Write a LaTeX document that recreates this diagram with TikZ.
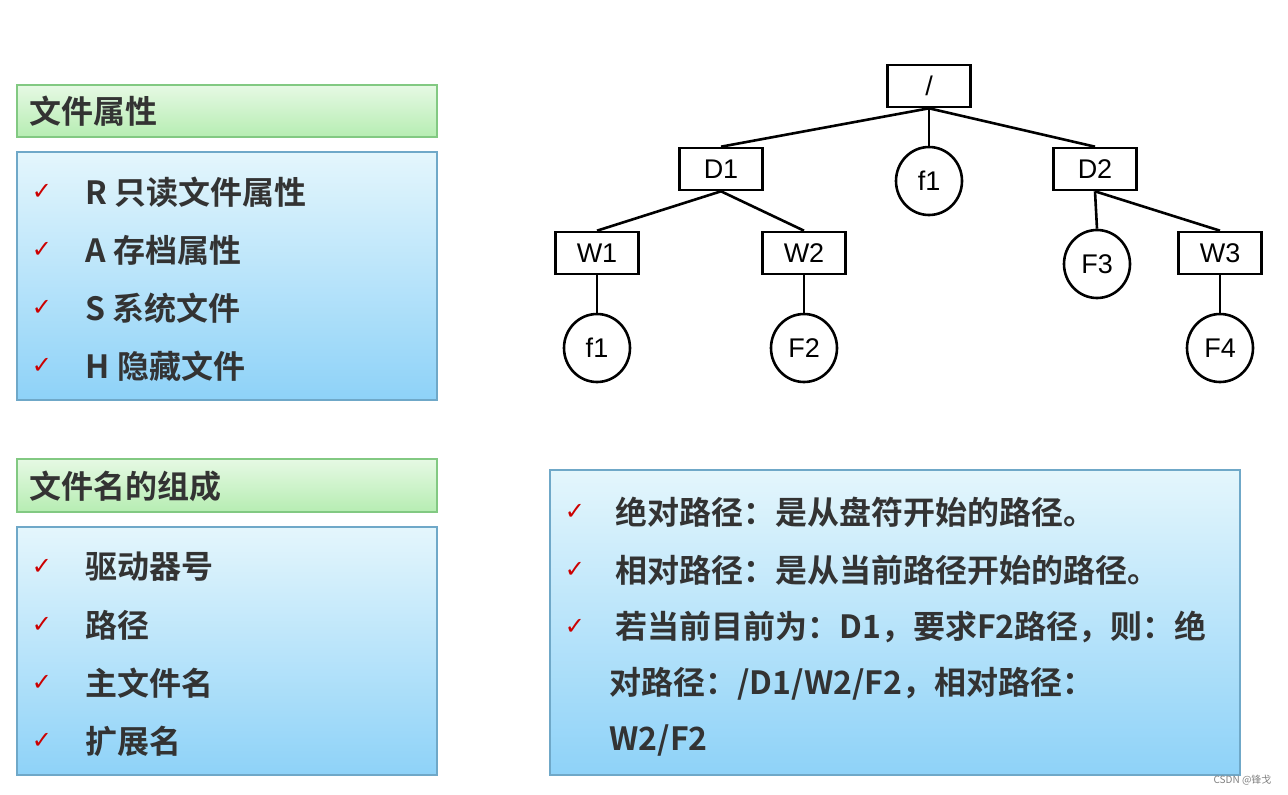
\documentclass[tikz,border=0pt]{standalone}
\usepackage{fontspec}
\setmainfont{Liberation Sans}
\newfontfamily\cjk{Noto Sans CJK SC}[BoldFont={* Bold}]
\newfontfamily\djvfont{DejaVu Sans}
\usetikzlibrary{shapes.geometric}
\definecolor{bluetop}{HTML}{E4F6FC}
\definecolor{bluebot}{HTML}{8ED2F8}
\definecolor{bluedraw}{HTML}{6FA8C8}
\definecolor{grtop}{HTML}{E6F9E4}
\definecolor{grbot}{HTML}{B6EDB2}
\begin{document}
\begin{tikzpicture}[x=1pt,y=-1pt,
  hdr/.style={draw=green!40!gray!70,top color=grtop,bottom color=grbot,line width=1.2pt},
  blu/.style={draw=bluedraw,line width=1.2pt,top color=bluetop,bottom color=bluebot},
  tx/.style={anchor=west,font=\cjk\bfseries\fontsize{32}{34}\selectfont,text=black!80},
  ck/.style={anchor=center,font=\djvfont\fontsize{24}{26}\selectfont,text=red!80!black},
  rb/.style={draw,line width=2.6pt,minimum width=83pt,minimum height=42pt,inner sep=0pt,font=\fontsize{27}{29}\selectfont},
  el/.style={draw,ellipse,line width=2.6pt,minimum width=66pt,minimum height=68pt,inner sep=0pt,font=\fontsize{27}{29}\selectfont},
  ed/.style={line width=2.6pt}]
\useasboundingbox (0,0) rectangle (1288,795);
% left boxes
\path[hdr] (17,85) rectangle (437,137);
\node[tx] (h1) at (26,111) {文件属性};
\path[blu] (17,152) rectangle (437,400);
\foreach \y/\t [count=\i] in {192/R 只读文件属性,250/A 存档属性,308/S 系统文件,366/H 隐藏文件}{
  \node[ck] (ca\i) at (42,\y) {✓};
  \node[tx] (ta\i) at (82,\y) {\t};}
\path[hdr] (17,459) rectangle (437,512);
\node[tx] (h2) at (26,486) {文件名的组成};
\path[blu] (17,527) rectangle (437,775);
\foreach \y/\t [count=\i] in {567/驱动器号,625/路径,683/主文件名,741/扩展名}{
  \node[ck] (cb\i) at (42,\y) {✓};
  \node[tx] (tb\i) at (82,\y) {\t};}
% right box
\path[blu] (550,470) rectangle (1240,775);
\node[ck] (c1) at (575,512) {✓};
\node[tx] (r1) at (612,512) {绝对路径：是从盘符开始的路径。};
\node[ck] (c2) at (575,570) {✓};
\node[tx] (r2) at (612,570) {相对路径：是从当前路径开始的路径。};
\node[ck] (c3) at (575,627) {✓};
\node[tx] (r3) at (612,627) {若当前目前为：D1，要求F2路径，则：绝};
\node[tx] (r4) at (606,684) {对路径：/D1/W2/F2，相对路径：};
\node[tx] (r5) at (606,740) {W2/F2};
% tree
\node[rb] (root) at (929,86) {/};
\node[rb] (d1) at (721,169) {D1};
\node[el] (f1a) at (929,181) {f1};
\node[rb] (d2) at (1095,169) {D2};
\node[rb] (w1) at (597,253) {W1};
\node[rb] (w2) at (804,253) {W2};
\node[el] (f3) at (1097,264) {F3};
\node[rb] (w3) at (1220,253) {W3};
\node[el] (f1b) at (597,348) {f1};
\node[el] (f2) at (804,348) {F2};
\node[el] (f4) at (1220,348) {F4};
\draw[ed] (root.south) -- (d1.north);
\draw[ed] (root.south) -- (f1a.north);
\draw[ed] (root.south) -- (d2.north);
\draw[ed] (d1.south) -- (w1.north);
\draw[ed] (d1.south) -- (w2.north);
\draw[ed] (d2.south) -- (f3.north);
\draw[ed] (d2.south) -- (w3.north);
\draw[ed] (w1) -- (f1b);
\draw[ed] (w2) -- (f2);
\draw[ed] (w3) -- (f4);
\node[anchor=east,font=\cjk\fontsize{10}{12}\selectfont,text=gray] (wm) at (1275,780) {CSDN @锋戈};
\end{tikzpicture}
\end{document}
